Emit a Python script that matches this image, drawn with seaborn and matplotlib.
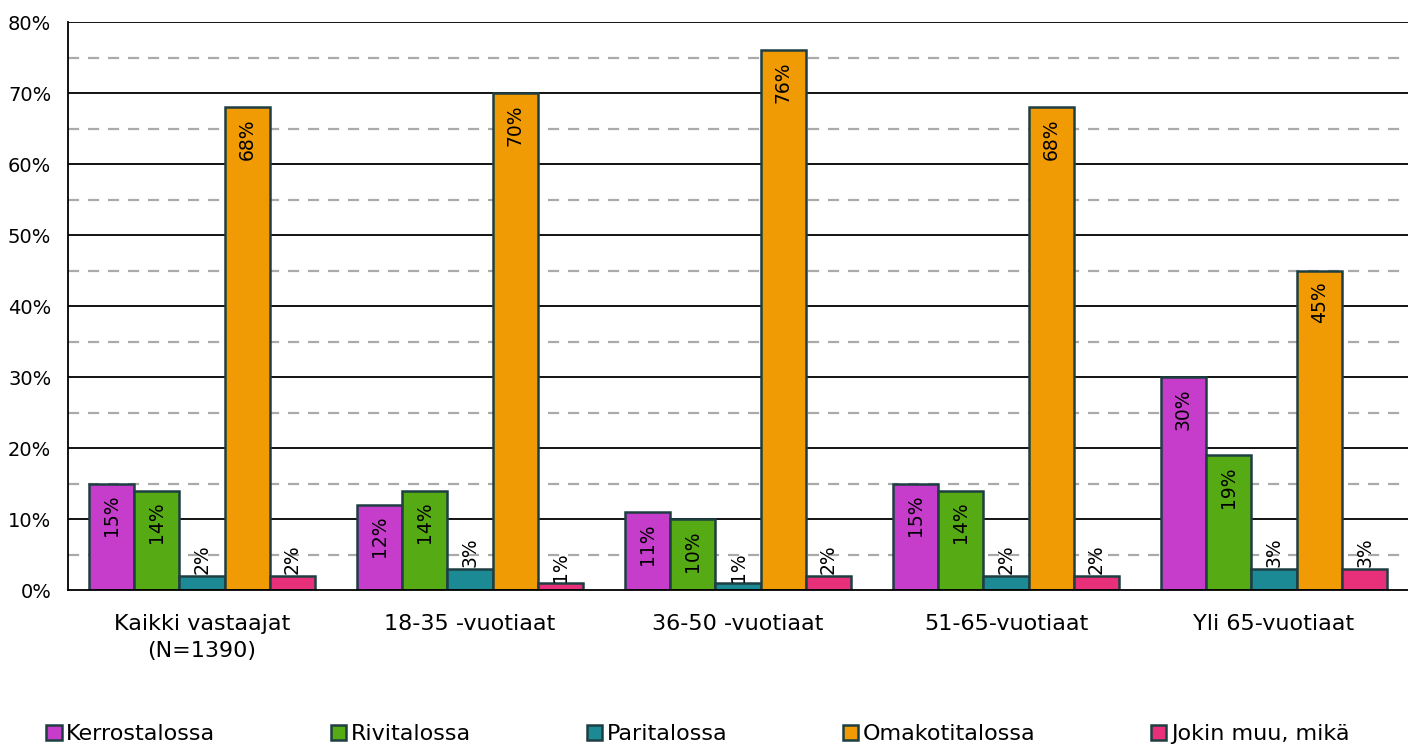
import pandas as pd
import numpy as np
import matplotlib.pyplot as plt
import seaborn as sns

groups = ["Kaikki vastaajat\n(N=1390)", "18-35 -vuotiaat", "36-50 -vuotiaat",
          "51-65-vuotiaat", "Yli 65-vuotiaat"]
series = ["Kerrostalossa", "Rivitalossa", "Paritalossa", "Omakotitalossa", "Jokin muu, mikä"]
kerrostalo = [15, 12, 11, 15, 30]
rivitalo = [14, 14, 10, 14, 19]
paritalo = [2, 3, 1, 2, 3]
omakoti = [68, 70, 76, 68, 45]
muu = [2, 1, 2, 2, 3]
colors = ["#C63DCB", "#56AB14", "#1B8A95", "#F09A04", "#E8307A"]

rows = []
for name, vals in zip(series, [kerrostalo, rivitalo, paritalo, omakoti, muu]):
    for g, v in zip(groups, vals):
        rows.append({"ryhma": g, "asunto": name, "osuus": v})
data = pd.DataFrame(rows)

sns.set_style("white")
plt.rcParams['font.family'] = ['DejaVu Sans']
plt.rcParams['text.color'] = 'black'

fig = plt.figure(figsize=(14.08, 7.46), dpi=100)
ax = fig.add_axes([0.0483, 0.209, 0.9517, 0.7615])

# grid: solid every 10 %, dashed every 5 %
for y in range(5, 80, 10):
    ax.axhline(y, color="#aaaaaa", lw=1.6, ls=(0, (5, 4)), zorder=0)
for y in range(10, 81, 10):
    ax.axhline(y, color="black", lw=1.3, zorder=0)

sns.barplot(data=data, x="ryhma", y="osuus", hue="asunto", palette=colors, saturation=1,
            width=0.845, edgecolor="#1E3F42", linewidth=1.8, ax=ax, zorder=2)

for cont in ax.containers:
    for bar in cont:
        v = bar.get_height()
        xc = bar.get_x() + bar.get_width() / 2
        if v >= 10:
            ax.annotate(f"{v:.0f}%", (xc, v), xytext=(0, -8), textcoords="offset points",
                        rotation=90, ha="center", va="top", fontsize=13.5, color="black", zorder=3)
        else:
            ax.annotate(f"{v:.0f}%", (xc, v), xytext=(0, 1), textcoords="offset points",
                        rotation=90, ha="center", va="bottom", fontsize=13.5, color="black", zorder=3)

ax.set_ylim(0, 80)
ax.set_xlim(-0.5, 4.5)
ax.set_yticks(range(0, 81, 10))
ax.set_yticklabels([f"{t}%" for t in range(0, 81, 10)], fontsize=14)
ax.set_xticks(range(len(groups)))
ax.set_xticklabels(groups, fontsize=16, linespacing=1.45)
ax.tick_params(axis="x", pad=17, length=0, labelcolor="black")
ax.tick_params(axis="y", length=0, pad=12, labelcolor="black")
ax.set_xlabel("")
ax.set_ylabel("")
for s in ["top", "right"]:
    ax.spines[s].set_visible(False)
ax.spines["left"].set_color("black")
ax.spines["left"].set_linewidth(1.3)
ax.spines["bottom"].set_color("black")
ax.spines["bottom"].set_linewidth(1.3)

handles, labels = ax.get_legend_handles_labels()
ax.legend(handles, labels, loc="center", bbox_to_anchor=(0.47, -0.2535),
          ncol=5, frameon=False, fontsize=16, handlelength=0.7, handleheight=0.7,
          handletextpad=0.2, columnspacing=5.2)

plt.savefig("out.png", dpi=100)
